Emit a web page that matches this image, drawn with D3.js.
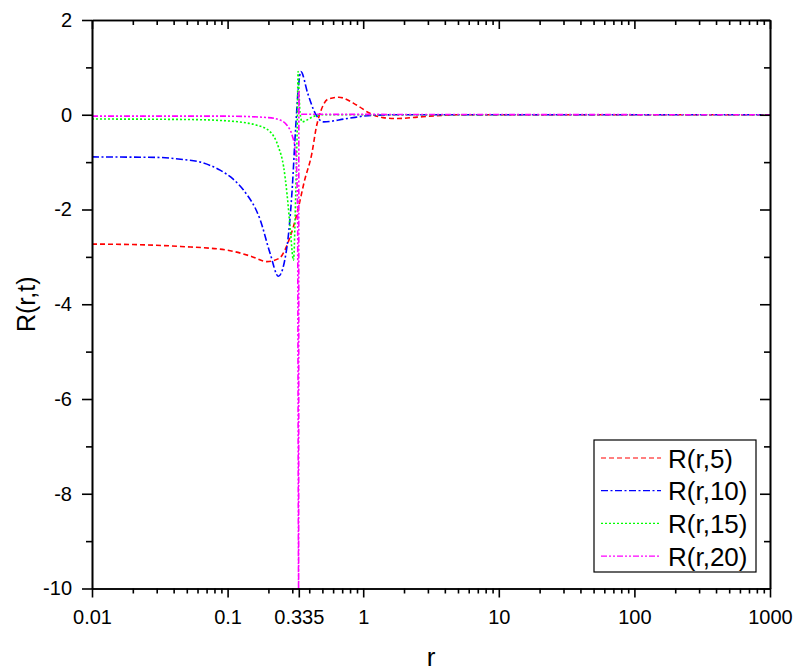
<!DOCTYPE html>
<html>
<head>
<meta charset="utf-8">
<script src="https://cdn.jsdelivr.net/npm/d3@7"></script>
<style>
  body { margin: 0; background: #fff; }
  svg text { font-family: Arial, "Liberation Sans", sans-serif; }
</style>
</head>
<body>
<svg id="chart" width="798" height="671"></svg>
<script>
// ---- data ----
const seriesNames = ['R(r,5)', 'R(r,10)', 'R(r,15)', 'R(r,20)'];

const r5 = [0.01, 0.02, 0.045, 0.1, 0.15, 0.195, 0.24, 0.289, 0.324, 0.37, 0.418, 0.452, 0.49, 0.55, 0.66, 0.9, 1.12, 1.4, 1.8, 2.5, 3.5, 5, 1000];
const R5 = [-2.73, -2.74, -2.78, -2.86, -2.99, -3.1, -3.03, -2.58, -2.1, -1.38, -0.82, -0.25, 0.1, 0.33, 0.37, 0.2, 0.03, -0.06, -0.08, -0.05, -0.02, 0, 0];

const r10 = [0.01, 0.03, 0.045, 0.063, 0.088, 0.11, 0.131, 0.174, 0.206, 0.237, 0.274, 0.298, 0.318, 0.333, 0.347, 0.39, 0.443, 0.51, 0.76, 1.19, 2, 1000];
const R10 = [-0.89, -0.9, -0.94, -1.0, -1.17, -1.36, -1.59, -2.22, -2.93, -3.41, -2.79, -1.66, -0.25, 0.59, 0.91, 0.45, 0.03, -0.15, -0.08, -0.01, 0, 0];

const r15 = [0.01, 0.05, 0.1, 0.164, 0.206, 0.237, 0.259, 0.274, 0.289, 0.306, 0.318, 0.326, 0.331, 0.336, 0.342, 0.355, 0.38, 0.42, 0.5, 1000];
const R15 = [-0.09, -0.1, -0.13, -0.22, -0.36, -0.68, -1.1, -1.66, -2.37, -3.07, -1.66, -0.3, 0.91, 0.5, 0.05, -0.15, -0.12, -0.05, 0, 0];

const r20 = [0.01, 0.1, 0.2, 0.243, 0.274, 0.298, 0.318, 0.328, 0.334, 0.3355, 0.338, 0.35, 1000];
const R20 = [-0.03, -0.03, -0.06, -0.11, -0.22, -0.42, -0.8, -2, -10, 0.5, 0.03, 0.01, 0];

const xTickVals = [0.01, 0.1, 0.335, 1, 10, 100, 1000];
const xTickLabels = ['0.01', '0.1', '0.335', '1', '10', '100', '1000'];
const yTickVals = [2, 0, -2, -4, -6, -8, -10];
const yTickLabels = ['2', '0', '-2', '-4', '-6', '-8', '-10'];
const yMinorVals = [1, -1, -3, -5, -7, -9];

const colors = ['#ff0000', '#0000ff', '#00ff00', '#ff00ff'];
const dashes = ['5,3', '7,2.5,2,2.5', '2,2', '6,2,2,2,2,2'];

// ---- layout ----
const L = 92, R = 770, T = 20, B = 588.5;

const svg = d3.select('#chart');

const x = d3.scaleLog()
            .domain([0.01, 1000])
            .range([L, R]);

const y = d3.scaleLinear()
            .domain([-10, 2])
            .range([B, T]);

// minor ticks 2..9 per decade
const xMinor = [];
[0.01, 0.1, 1, 10, 100].forEach(d => {
  for (let k = 2; k <= 9; k++) xMinor.push(d * k);
});

svg.append('rect')
  .attr('width', 798)
  .attr('height', 671)
  .attr('fill', 'white');

svg.append('clipPath')
  .attr('id', 'plotClip')
  .append('rect')
  .attr('x', L)
  .attr('y', T)
  .attr('width', R - L)
  .attr('height', B - T);

// curves
const seriesR = [r5, r10, r15, r20];
const seriesV = [R5, R10, R15, R20];

const line = d3.line()
               .x(d => x(d[0]))
               .y(d => y(d[1]))
               .curve(d3.curveMonotoneX);

const gLines = svg.append('g').attr('clip-path', 'url(#plotClip)');

seriesR.forEach((rs, i) => {
  const pts = rs.map((r, j) => [r, seriesV[i][j]]);
  gLines.append('path')
    .datum(pts)
    .attr('d', line)
    .attr('fill', 'none')
    .attr('stroke', colors[i])
    .attr('stroke-width', 1.6)
    .attr('stroke-dasharray', dashes[i]);
});

// axes
function styleAxis(g) {
  g.selectAll('path').attr('stroke', '#000').attr('stroke-width', 1.6);
  g.selectAll('line').attr('stroke', '#000').attr('stroke-width', 1.6);
  g.selectAll('text').attr('font-size', '20px').attr('fill', '#000')
    .attr('font-family', 'Arial, "Liberation Sans", sans-serif');
}

// bottom
svg.append('g')
  .attr('transform', `translate(0,${B})`)
  .call(d3.axisBottom(x).tickValues(xMinor).tickSize(5).tickSizeOuter(0).tickFormat(''))
  .call(styleAxis);

svg.append('g')
  .attr('transform', `translate(0,${B})`)
  .call(d3.axisBottom(x).tickValues(xTickVals).tickSize(9).tickSizeOuter(0).tickPadding(12)
        .tickFormat((d, i) => xTickLabels[i]))
  .call(styleAxis);

// top (ticks inward)
svg.append('g')
  .attr('transform', `translate(0,${T})`)
  .call(d3.axisBottom(x).tickValues(xMinor).tickSize(5).tickSizeOuter(0).tickFormat(''))
  .call(styleAxis);

svg.append('g')
  .attr('transform', `translate(0,${T})`)
  .call(d3.axisBottom(x).tickValues([0.01, 0.1, 1, 10, 100, 1000]).tickSize(9).tickSizeOuter(0).tickFormat(''))
  .call(styleAxis);

// left
svg.append('g')
  .attr('transform', `translate(${L},0)`)
  .call(d3.axisLeft(y).tickValues(yMinorVals).tickSize(6).tickSizeOuter(0).tickFormat(''))
  .call(styleAxis);

svg.append('g')
  .attr('transform', `translate(${L},0)`)
  .call(d3.axisLeft(y).tickValues(yTickVals).tickSize(10).tickSizeOuter(0).tickPadding(10)
        .tickFormat((d, i) => yTickLabels[i]))
  .call(styleAxis);

// right (ticks inward)
svg.append('g')
  .attr('transform', `translate(${R},0)`)
  .call(d3.axisLeft(y).tickValues(yMinorVals).tickSizeInner(6).tickSizeOuter(0).tickFormat(''))
  .call(g => g.selectAll('.tick line').attr('x2', -6))
  .call(styleAxis);

svg.append('g')
  .attr('transform', `translate(${R},0)`)
  .call(d3.axisLeft(y).tickValues(yTickVals).tickSizeInner(10).tickSizeOuter(0).tickFormat(''))
  .call(g => g.selectAll('.tick line').attr('x2', -10))
  .call(styleAxis);

// axis titles
svg.append('text')
  .attr('x', (L + R) / 2)
  .attr('y', 666)
  .attr('text-anchor', 'middle')
  .attr('font-size', '26px')
  .text('r');

svg.append('text')
  .attr('transform', `translate(35,${(T + B) / 2}) rotate(-90)`)
  .attr('text-anchor', 'middle')
  .attr('font-size', '25px')
  .text('R(r,t)');

// legend
const legend = svg.append('g');

legend.append('rect')
  .attr('x', 594)
  .attr('y', 440)
  .attr('width', 162)
  .attr('height', 132)
  .attr('fill', 'white')
  .attr('stroke', '#000')
  .attr('stroke-width', 1.2);

seriesNames.forEach((name, i) => {
  const cy = 458 + i * 32.7;
  legend.append('line')
    .attr('x1', 601)
    .attr('x2', 661)
    .attr('y1', cy)
    .attr('y2', cy)
    .attr('stroke', colors[i])
    .attr('stroke-width', 1.2)
    .attr('stroke-dasharray', dashes[i]);
  legend.append('text')
    .attr('x', 668)
    .attr('y', cy + 9.5)
    .attr('font-size', '26px')
    .text(name);
});
</script>
</body>
</html>
